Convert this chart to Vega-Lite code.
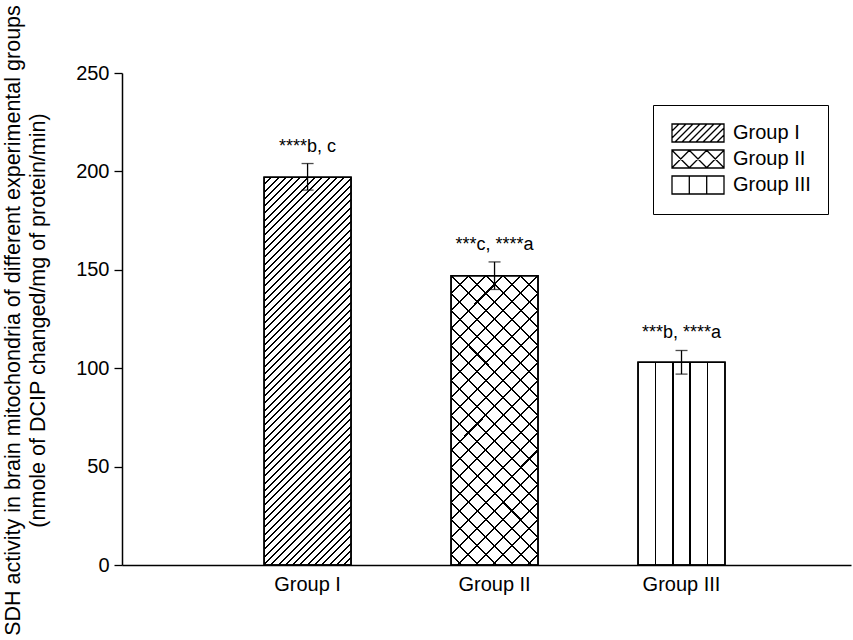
{
"$schema": "https://vega.github.io/schema/vega-lite/v6.json",
"width": 729, "height": 492,
"autosize": {"type": "none"},
"padding": {"left": 122, "top": 73, "right": 2, "bottom": 75},
"background": "white",
"config": {"font": "Liberation Sans", "view": {"stroke": null}},
"data": {"values": [
{"group": "Group I", "mean": 197, "lo": 190.5, "hi": 204, "label": "****b, c"},
{"group": "Group II", "mean": 147, "lo": 140, "hi": 154, "label": "***c, ****a"},
{"group": "Group III", "mean": 103, "lo": 97, "hi": 109, "label": "***b, ****a"}
]},
"encoding": {
"x": {"field": "group", "type": "nominal", "sort": ["Group I", "Group II", "Group III"],
"scale": {"domain": ["Group I", "Group II", "Group III"], "paddingInner": 0.535, "paddingOuter": 0.717, "align": 0.53},
"axis": {"title": null, "ticks": false, "labelAngle": 0, "labelFontSize": 20, "labelColor": "black", "labelPadding": 9, "domainColor": "black", "domainWidth": 1.5}}
},
"layer": [
{"mark": {"type": "bar", "fill": "white", "stroke": "black", "strokeWidth": 1.5},
"encoding": {"y": {"field": "mean", "type": "quantitative", "scale": {"domain": [0, 250], "nice": false},
"axis": {"values": [0, 50, 100, 150, 200, 250], "grid": false, "tickSize": 8, "tickColor": "black", "tickWidth": 1.3, "domainColor": "black", "domainWidth": 1.5, "labelFontSize": 20, "labelColor": "black", "labelPadding": 5,
"title": ["SDH activity in brain mitochondria of different experimental groups", "(nmole of DCIP changed/mg of protein/min)"],
"titleFontSize": 21.5, "titleFontWeight": "normal", "titleColor": "black", "titleX": -120, "titleY": 247, "titleAngle": -90, "titleBaseline": "top", "titleAlign": "center", "titleLineHeight": 25}}}},
{"transform": [{"filter": "datum.group === 'Group I'"}],
"mark": {"type": "bar", "strokeWidth": 0, "fill": {"gradient": "linear", "x1": 0, "y1": 0, "x2": 0.2614, "y2": 1.1656, "stops": [
{"offset":0.0133,"color":"#0000"},{"offset":0.0133,"color":"#000"},{"offset":0.0175,"color":"#000"},{"offset":0.0175,"color":"#0000"},
{"offset":0.0287,"color":"#0000"},{"offset":0.0287,"color":"#000"},{"offset":0.0329,"color":"#000"},{"offset":0.0329,"color":"#0000"},
{"offset":0.0441,"color":"#0000"},{"offset":0.0441,"color":"#000"},{"offset":0.0483,"color":"#000"},{"offset":0.0483,"color":"#0000"},
{"offset":0.0594,"color":"#0000"},{"offset":0.0594,"color":"#000"},{"offset":0.0636,"color":"#000"},{"offset":0.0636,"color":"#0000"},
{"offset":0.0748,"color":"#0000"},{"offset":0.0748,"color":"#000"},{"offset":0.0790,"color":"#000"},{"offset":0.0790,"color":"#0000"},
{"offset":0.0902,"color":"#0000"},{"offset":0.0902,"color":"#000"},{"offset":0.0944,"color":"#000"},{"offset":0.0944,"color":"#0000"},
{"offset":0.1056,"color":"#0000"},{"offset":0.1056,"color":"#000"},{"offset":0.1098,"color":"#000"},{"offset":0.1098,"color":"#0000"},
{"offset":0.1210,"color":"#0000"},{"offset":0.1210,"color":"#000"},{"offset":0.1252,"color":"#000"},{"offset":0.1252,"color":"#0000"},
{"offset":0.1364,"color":"#0000"},{"offset":0.1364,"color":"#000"},{"offset":0.1406,"color":"#000"},{"offset":0.1406,"color":"#0000"},
{"offset":0.1517,"color":"#0000"},{"offset":0.1517,"color":"#000"},{"offset":0.1559,"color":"#000"},{"offset":0.1559,"color":"#0000"},
{"offset":0.1671,"color":"#0000"},{"offset":0.1671,"color":"#000"},{"offset":0.1713,"color":"#000"},{"offset":0.1713,"color":"#0000"},
{"offset":0.1825,"color":"#0000"},{"offset":0.1825,"color":"#000"},{"offset":0.1867,"color":"#000"},{"offset":0.1867,"color":"#0000"},
{"offset":0.1979,"color":"#0000"},{"offset":0.1979,"color":"#000"},{"offset":0.2021,"color":"#000"},{"offset":0.2021,"color":"#0000"},
{"offset":0.2133,"color":"#0000"},{"offset":0.2133,"color":"#000"},{"offset":0.2175,"color":"#000"},{"offset":0.2175,"color":"#0000"},
{"offset":0.2287,"color":"#0000"},{"offset":0.2287,"color":"#000"},{"offset":0.2329,"color":"#000"},{"offset":0.2329,"color":"#0000"},
{"offset":0.2441,"color":"#0000"},{"offset":0.2441,"color":"#000"},{"offset":0.2483,"color":"#000"},{"offset":0.2483,"color":"#0000"},
{"offset":0.2594,"color":"#0000"},{"offset":0.2594,"color":"#000"},{"offset":0.2636,"color":"#000"},{"offset":0.2636,"color":"#0000"},
{"offset":0.2748,"color":"#0000"},{"offset":0.2748,"color":"#000"},{"offset":0.2790,"color":"#000"},{"offset":0.2790,"color":"#0000"},
{"offset":0.2902,"color":"#0000"},{"offset":0.2902,"color":"#000"},{"offset":0.2944,"color":"#000"},{"offset":0.2944,"color":"#0000"},
{"offset":0.3056,"color":"#0000"},{"offset":0.3056,"color":"#000"},{"offset":0.3098,"color":"#000"},{"offset":0.3098,"color":"#0000"},
{"offset":0.3210,"color":"#0000"},{"offset":0.3210,"color":"#000"},{"offset":0.3252,"color":"#000"},{"offset":0.3252,"color":"#0000"},
{"offset":0.3364,"color":"#0000"},{"offset":0.3364,"color":"#000"},{"offset":0.3406,"color":"#000"},{"offset":0.3406,"color":"#0000"},
{"offset":0.3517,"color":"#0000"},{"offset":0.3517,"color":"#000"},{"offset":0.3559,"color":"#000"},{"offset":0.3559,"color":"#0000"},
{"offset":0.3671,"color":"#0000"},{"offset":0.3671,"color":"#000"},{"offset":0.3713,"color":"#000"},{"offset":0.3713,"color":"#0000"},
{"offset":0.3825,"color":"#0000"},{"offset":0.3825,"color":"#000"},{"offset":0.3867,"color":"#000"},{"offset":0.3867,"color":"#0000"},
{"offset":0.3979,"color":"#0000"},{"offset":0.3979,"color":"#000"},{"offset":0.4021,"color":"#000"},{"offset":0.4021,"color":"#0000"},
{"offset":0.4133,"color":"#0000"},{"offset":0.4133,"color":"#000"},{"offset":0.4175,"color":"#000"},{"offset":0.4175,"color":"#0000"},
{"offset":0.4287,"color":"#0000"},{"offset":0.4287,"color":"#000"},{"offset":0.4329,"color":"#000"},{"offset":0.4329,"color":"#0000"},
{"offset":0.4441,"color":"#0000"},{"offset":0.4441,"color":"#000"},{"offset":0.4483,"color":"#000"},{"offset":0.4483,"color":"#0000"},
{"offset":0.4594,"color":"#0000"},{"offset":0.4594,"color":"#000"},{"offset":0.4636,"color":"#000"},{"offset":0.4636,"color":"#0000"},
{"offset":0.4748,"color":"#0000"},{"offset":0.4748,"color":"#000"},{"offset":0.4790,"color":"#000"},{"offset":0.4790,"color":"#0000"},
{"offset":0.4902,"color":"#0000"},{"offset":0.4902,"color":"#000"},{"offset":0.4944,"color":"#000"},{"offset":0.4944,"color":"#0000"},
{"offset":0.5056,"color":"#0000"},{"offset":0.5056,"color":"#000"},{"offset":0.5098,"color":"#000"},{"offset":0.5098,"color":"#0000"},
{"offset":0.5210,"color":"#0000"},{"offset":0.5210,"color":"#000"},{"offset":0.5252,"color":"#000"},{"offset":0.5252,"color":"#0000"},
{"offset":0.5364,"color":"#0000"},{"offset":0.5364,"color":"#000"},{"offset":0.5406,"color":"#000"},{"offset":0.5406,"color":"#0000"},
{"offset":0.5517,"color":"#0000"},{"offset":0.5517,"color":"#000"},{"offset":0.5559,"color":"#000"},{"offset":0.5559,"color":"#0000"},
{"offset":0.5671,"color":"#0000"},{"offset":0.5671,"color":"#000"},{"offset":0.5713,"color":"#000"},{"offset":0.5713,"color":"#0000"},
{"offset":0.5825,"color":"#0000"},{"offset":0.5825,"color":"#000"},{"offset":0.5867,"color":"#000"},{"offset":0.5867,"color":"#0000"},
{"offset":0.5979,"color":"#0000"},{"offset":0.5979,"color":"#000"},{"offset":0.6021,"color":"#000"},{"offset":0.6021,"color":"#0000"},
{"offset":0.6133,"color":"#0000"},{"offset":0.6133,"color":"#000"},{"offset":0.6175,"color":"#000"},{"offset":0.6175,"color":"#0000"},
{"offset":0.6287,"color":"#0000"},{"offset":0.6287,"color":"#000"},{"offset":0.6329,"color":"#000"},{"offset":0.6329,"color":"#0000"},
{"offset":0.6441,"color":"#0000"},{"offset":0.6441,"color":"#000"},{"offset":0.6483,"color":"#000"},{"offset":0.6483,"color":"#0000"},
{"offset":0.6594,"color":"#0000"},{"offset":0.6594,"color":"#000"},{"offset":0.6636,"color":"#000"},{"offset":0.6636,"color":"#0000"},
{"offset":0.6748,"color":"#0000"},{"offset":0.6748,"color":"#000"},{"offset":0.6790,"color":"#000"},{"offset":0.6790,"color":"#0000"},
{"offset":0.6902,"color":"#0000"},{"offset":0.6902,"color":"#000"},{"offset":0.6944,"color":"#000"},{"offset":0.6944,"color":"#0000"},
{"offset":0.7056,"color":"#0000"},{"offset":0.7056,"color":"#000"},{"offset":0.7098,"color":"#000"},{"offset":0.7098,"color":"#0000"},
{"offset":0.7210,"color":"#0000"},{"offset":0.7210,"color":"#000"},{"offset":0.7252,"color":"#000"},{"offset":0.7252,"color":"#0000"},
{"offset":0.7364,"color":"#0000"},{"offset":0.7364,"color":"#000"},{"offset":0.7406,"color":"#000"},{"offset":0.7406,"color":"#0000"},
{"offset":0.7517,"color":"#0000"},{"offset":0.7517,"color":"#000"},{"offset":0.7559,"color":"#000"},{"offset":0.7559,"color":"#0000"},
{"offset":0.7671,"color":"#0000"},{"offset":0.7671,"color":"#000"},{"offset":0.7713,"color":"#000"},{"offset":0.7713,"color":"#0000"},
{"offset":0.7825,"color":"#0000"},{"offset":0.7825,"color":"#000"},{"offset":0.7867,"color":"#000"},{"offset":0.7867,"color":"#0000"},
{"offset":0.7979,"color":"#0000"},{"offset":0.7979,"color":"#000"},{"offset":0.8021,"color":"#000"},{"offset":0.8021,"color":"#0000"},
{"offset":0.8133,"color":"#0000"},{"offset":0.8133,"color":"#000"},{"offset":0.8175,"color":"#000"},{"offset":0.8175,"color":"#0000"},
{"offset":0.8287,"color":"#0000"},{"offset":0.8287,"color":"#000"},{"offset":0.8329,"color":"#000"},{"offset":0.8329,"color":"#0000"},
{"offset":0.8441,"color":"#0000"},{"offset":0.8441,"color":"#000"},{"offset":0.8483,"color":"#000"},{"offset":0.8483,"color":"#0000"},
{"offset":0.8594,"color":"#0000"},{"offset":0.8594,"color":"#000"},{"offset":0.8636,"color":"#000"},{"offset":0.8636,"color":"#0000"},
{"offset":0.8748,"color":"#0000"},{"offset":0.8748,"color":"#000"},{"offset":0.8790,"color":"#000"},{"offset":0.8790,"color":"#0000"},
{"offset":0.8902,"color":"#0000"},{"offset":0.8902,"color":"#000"},{"offset":0.8944,"color":"#000"},{"offset":0.8944,"color":"#0000"},
{"offset":0.9056,"color":"#0000"},{"offset":0.9056,"color":"#000"},{"offset":0.9098,"color":"#000"},{"offset":0.9098,"color":"#0000"},
{"offset":0.9210,"color":"#0000"},{"offset":0.9210,"color":"#000"},{"offset":0.9252,"color":"#000"},{"offset":0.9252,"color":"#0000"},
{"offset":0.9364,"color":"#0000"},{"offset":0.9364,"color":"#000"},{"offset":0.9406,"color":"#000"},{"offset":0.9406,"color":"#0000"},
{"offset":0.9517,"color":"#0000"},{"offset":0.9517,"color":"#000"},{"offset":0.9559,"color":"#000"},{"offset":0.9559,"color":"#0000"},
{"offset":0.9671,"color":"#0000"},{"offset":0.9671,"color":"#000"},{"offset":0.9713,"color":"#000"},{"offset":0.9713,"color":"#0000"},
{"offset":0.9825,"color":"#0000"},{"offset":0.9825,"color":"#000"},{"offset":0.9867,"color":"#000"},{"offset":0.9867,"color":"#0000"}
]}},
"encoding": {"y": {"field": "mean", "type": "quantitative"}}},
{"transform": [{"filter": "datum.group === 'Group II'"}],
"mark": {"type": "bar", "strokeWidth": 0, "fill": {"gradient": "linear", "x1": 0, "y1": 0, "x2": 0.3591, "y2": 1.1929, "stops": [
{"offset":0.0436,"color":"#0000"},{"offset":0.0436,"color":"#000"},{"offset":0.0490,"color":"#000"},{"offset":0.0490,"color":"#0000"},
{"offset":0.0899,"color":"#0000"},{"offset":0.0899,"color":"#000"},{"offset":0.0953,"color":"#000"},{"offset":0.0953,"color":"#0000"},
{"offset":0.1362,"color":"#0000"},{"offset":0.1362,"color":"#000"},{"offset":0.1416,"color":"#000"},{"offset":0.1416,"color":"#0000"},
{"offset":0.1825,"color":"#0000"},{"offset":0.1825,"color":"#000"},{"offset":0.1879,"color":"#000"},{"offset":0.1879,"color":"#0000"},
{"offset":0.2288,"color":"#0000"},{"offset":0.2288,"color":"#000"},{"offset":0.2342,"color":"#000"},{"offset":0.2342,"color":"#0000"},
{"offset":0.2751,"color":"#0000"},{"offset":0.2751,"color":"#000"},{"offset":0.2805,"color":"#000"},{"offset":0.2805,"color":"#0000"},
{"offset":0.3214,"color":"#0000"},{"offset":0.3214,"color":"#000"},{"offset":0.3268,"color":"#000"},{"offset":0.3268,"color":"#0000"},
{"offset":0.3677,"color":"#0000"},{"offset":0.3677,"color":"#000"},{"offset":0.3731,"color":"#000"},{"offset":0.3731,"color":"#0000"},
{"offset":0.4140,"color":"#0000"},{"offset":0.4140,"color":"#000"},{"offset":0.4194,"color":"#000"},{"offset":0.4194,"color":"#0000"},
{"offset":0.4603,"color":"#0000"},{"offset":0.4603,"color":"#000"},{"offset":0.4657,"color":"#000"},{"offset":0.4657,"color":"#0000"},
{"offset":0.5066,"color":"#0000"},{"offset":0.5066,"color":"#000"},{"offset":0.5120,"color":"#000"},{"offset":0.5120,"color":"#0000"},
{"offset":0.5529,"color":"#0000"},{"offset":0.5529,"color":"#000"},{"offset":0.5583,"color":"#000"},{"offset":0.5583,"color":"#0000"},
{"offset":0.5992,"color":"#0000"},{"offset":0.5992,"color":"#000"},{"offset":0.6046,"color":"#000"},{"offset":0.6046,"color":"#0000"},
{"offset":0.6454,"color":"#0000"},{"offset":0.6454,"color":"#000"},{"offset":0.6508,"color":"#000"},{"offset":0.6508,"color":"#0000"},
{"offset":0.6917,"color":"#0000"},{"offset":0.6917,"color":"#000"},{"offset":0.6971,"color":"#000"},{"offset":0.6971,"color":"#0000"},
{"offset":0.7380,"color":"#0000"},{"offset":0.7380,"color":"#000"},{"offset":0.7434,"color":"#000"},{"offset":0.7434,"color":"#0000"},
{"offset":0.7843,"color":"#0000"},{"offset":0.7843,"color":"#000"},{"offset":0.7897,"color":"#000"},{"offset":0.7897,"color":"#0000"},
{"offset":0.8306,"color":"#0000"},{"offset":0.8306,"color":"#000"},{"offset":0.8360,"color":"#000"},{"offset":0.8360,"color":"#0000"},
{"offset":0.8769,"color":"#0000"},{"offset":0.8769,"color":"#000"},{"offset":0.8823,"color":"#000"},{"offset":0.8823,"color":"#0000"},
{"offset":0.9232,"color":"#0000"},{"offset":0.9232,"color":"#000"},{"offset":0.9286,"color":"#000"},{"offset":0.9286,"color":"#0000"},
{"offset":0.9695,"color":"#0000"},{"offset":0.9695,"color":"#000"},{"offset":0.9749,"color":"#000"},{"offset":0.9749,"color":"#0000"}
]}},
"encoding": {"y": {"field": "mean", "type": "quantitative"}}},
{"transform": [{"filter": "datum.group === 'Group II'"}],
"mark": {"type": "bar", "strokeWidth": 0, "fill": {"gradient": "linear", "x1": 1, "y1": 0, "x2": 0.6409, "y2": 1.1929, "stops": [
{"offset":0.0436,"color":"#0000"},{"offset":0.0436,"color":"#000"},{"offset":0.0490,"color":"#000"},{"offset":0.0490,"color":"#0000"},
{"offset":0.0899,"color":"#0000"},{"offset":0.0899,"color":"#000"},{"offset":0.0953,"color":"#000"},{"offset":0.0953,"color":"#0000"},
{"offset":0.1362,"color":"#0000"},{"offset":0.1362,"color":"#000"},{"offset":0.1416,"color":"#000"},{"offset":0.1416,"color":"#0000"},
{"offset":0.1825,"color":"#0000"},{"offset":0.1825,"color":"#000"},{"offset":0.1879,"color":"#000"},{"offset":0.1879,"color":"#0000"},
{"offset":0.2288,"color":"#0000"},{"offset":0.2288,"color":"#000"},{"offset":0.2342,"color":"#000"},{"offset":0.2342,"color":"#0000"},
{"offset":0.2751,"color":"#0000"},{"offset":0.2751,"color":"#000"},{"offset":0.2805,"color":"#000"},{"offset":0.2805,"color":"#0000"},
{"offset":0.3214,"color":"#0000"},{"offset":0.3214,"color":"#000"},{"offset":0.3268,"color":"#000"},{"offset":0.3268,"color":"#0000"},
{"offset":0.3677,"color":"#0000"},{"offset":0.3677,"color":"#000"},{"offset":0.3731,"color":"#000"},{"offset":0.3731,"color":"#0000"},
{"offset":0.4140,"color":"#0000"},{"offset":0.4140,"color":"#000"},{"offset":0.4194,"color":"#000"},{"offset":0.4194,"color":"#0000"},
{"offset":0.4603,"color":"#0000"},{"offset":0.4603,"color":"#000"},{"offset":0.4657,"color":"#000"},{"offset":0.4657,"color":"#0000"},
{"offset":0.5066,"color":"#0000"},{"offset":0.5066,"color":"#000"},{"offset":0.5120,"color":"#000"},{"offset":0.5120,"color":"#0000"},
{"offset":0.5529,"color":"#0000"},{"offset":0.5529,"color":"#000"},{"offset":0.5583,"color":"#000"},{"offset":0.5583,"color":"#0000"},
{"offset":0.5992,"color":"#0000"},{"offset":0.5992,"color":"#000"},{"offset":0.6046,"color":"#000"},{"offset":0.6046,"color":"#0000"},
{"offset":0.6454,"color":"#0000"},{"offset":0.6454,"color":"#000"},{"offset":0.6508,"color":"#000"},{"offset":0.6508,"color":"#0000"},
{"offset":0.6917,"color":"#0000"},{"offset":0.6917,"color":"#000"},{"offset":0.6971,"color":"#000"},{"offset":0.6971,"color":"#0000"},
{"offset":0.7380,"color":"#0000"},{"offset":0.7380,"color":"#000"},{"offset":0.7434,"color":"#000"},{"offset":0.7434,"color":"#0000"},
{"offset":0.7843,"color":"#0000"},{"offset":0.7843,"color":"#000"},{"offset":0.7897,"color":"#000"},{"offset":0.7897,"color":"#0000"},
{"offset":0.8306,"color":"#0000"},{"offset":0.8306,"color":"#000"},{"offset":0.8360,"color":"#000"},{"offset":0.8360,"color":"#0000"},
{"offset":0.8769,"color":"#0000"},{"offset":0.8769,"color":"#000"},{"offset":0.8823,"color":"#000"},{"offset":0.8823,"color":"#0000"},
{"offset":0.9232,"color":"#0000"},{"offset":0.9232,"color":"#000"},{"offset":0.9286,"color":"#000"},{"offset":0.9286,"color":"#0000"},
{"offset":0.9695,"color":"#0000"},{"offset":0.9695,"color":"#000"},{"offset":0.9749,"color":"#000"},{"offset":0.9749,"color":"#0000"}
]}},
"encoding": {"y": {"field": "mean", "type": "quantitative"}}},
{"transform": [{"filter": "datum.group === 'Group III'"}],
"mark": {"type": "bar", "strokeWidth": 0, "fill": {"gradient": "linear", "x1": 0, "y1": 0, "x2": 1, "y2": 0, "stops": [
{"offset":0.191,"color":"#0000"},{"offset":0.191,"color":"#000"},{"offset":0.209,"color":"#000"},{"offset":0.209,"color":"#0000"},
{"offset":0.391,"color":"#0000"},{"offset":0.391,"color":"#000"},{"offset":0.409,"color":"#000"},{"offset":0.409,"color":"#0000"},
{"offset":0.591,"color":"#0000"},{"offset":0.591,"color":"#000"},{"offset":0.609,"color":"#000"},{"offset":0.609,"color":"#0000"},
{"offset":0.791,"color":"#0000"},{"offset":0.791,"color":"#000"},{"offset":0.809,"color":"#000"},{"offset":0.809,"color":"#0000"}
]}},
"encoding": {"y": {"field": "mean", "type": "quantitative"}}},
{"mark": {"type": "bar", "fill": "white", "fillOpacity": 0, "stroke": "black", "strokeWidth": 1.5},
"encoding": {"y": {"field": "mean", "type": "quantitative"}}},
{"mark": {"type": "rule", "color": "black", "strokeWidth": 1.3},
"encoding": {"y": {"field": "lo", "type": "quantitative"}, "y2": {"field": "hi"}}},
{"mark": {"type": "tick", "color": "black", "size": 12, "thickness": 1.3},
"encoding": {"y": {"field": "lo", "type": "quantitative"}}},
{"mark": {"type": "tick", "color": "black", "size": 12, "thickness": 1.3},
"encoding": {"y": {"field": "hi", "type": "quantitative"}}},
{"mark": {"type": "text", "dy": -12, "baseline": "alphabetic", "align": "center", "fontSize": 18, "color": "black"},
"encoding": {"y": {"field": "hi", "type": "quantitative"}, "text": {"field": "label"}}},
{"mark": {"type": "point", "opacity": 0, "color": "black"},
"encoding": {"y": {"field": "mean", "type": "quantitative"},
"shape": {"field": "group", "type": "nominal",
"scale": {"domain": ["Group I", "Group II", "Group III"], "range": [
"M-2.6,-0.9H2.6V0.9H-2.6Z M-2.6,-0.2L-1.9,-0.9 M-2.6,0.5L-1.2,-0.9 M-2.3,0.9L-0.5,-0.9 M-1.6,0.9L0.2,-0.9 M-0.9,0.9L0.9,-0.9 M-0.2,0.9L1.6,-0.9 M0.5,0.9L2.3,-0.9 M1.2,0.9L2.6,-0.5 M1.9,0.9L2.6,0.2",
"M-2.6,-0.9H2.6V0.9H-2.6Z M-2.6,0.87L-0.83,-0.9 M-0.9,0.9L0.9,-0.9 M0.83,0.9L2.6,-0.87 M-2.6,-0.87L-0.83,0.9 M-0.9,-0.9L0.9,0.9 M0.83,-0.9L2.6,0.87",
"M-2.6,-0.9H2.6V0.9H-2.6Z M-0.87,-0.9V0.9 M0.87,-0.9V0.9"]},
"legend": {"orient": "none", "legendX": 531, "legendY": 32, "title": null, "padding": 17, "symbolSize": 400, "symbolOffset": 17, "labelOffset": 24, "labelFontSize": 20, "labelColor": "black", "labelFont": "Liberation Sans", "rowPadding": 2, "strokeColor": "black", "symbolStrokeColor": "black", "symbolFillColor": "white", "symbolStrokeWidth": 1.3, "symbolOpacity": 1,
"encode": {"legend": {"update": {"stroke": {"value": "black"}, "strokeWidth": {"value": 1.5}}},
"symbols": {"update": {"opacity": {"value": 1}, "fill": {"value": "white"}, "fillOpacity": {"value": 1}, "stroke": {"value": "black"}, "strokeOpacity": {"value": 1}, "strokeWidth": {"value": 1.3}, "size": {"value": 400}}}}}}}}
]
}
